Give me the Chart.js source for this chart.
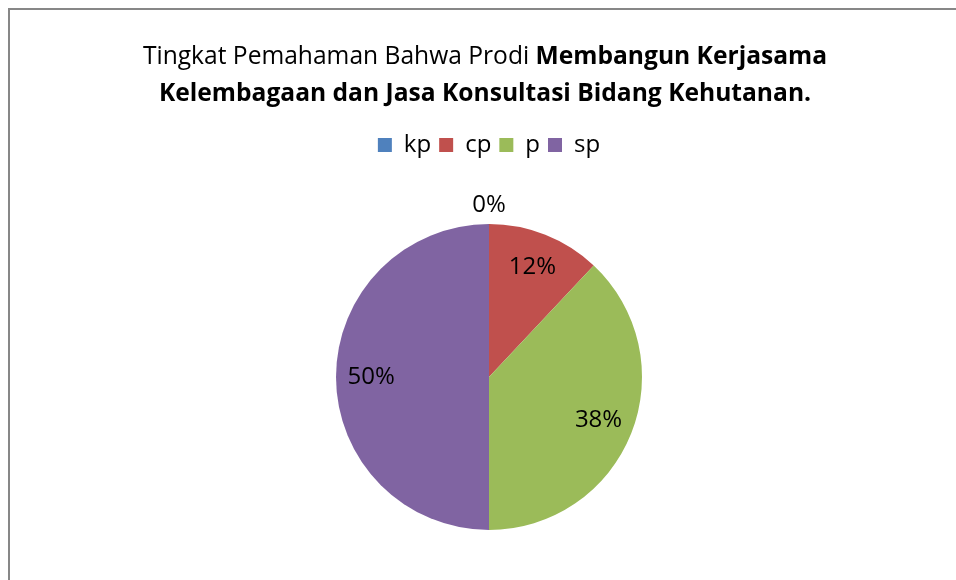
<!DOCTYPE html>
<html>
<head>
<meta charset="utf-8">
<title>Tingkat Pemahaman</title>
<script src="https://cdn.jsdelivr.net/npm/chart.js@4.4.1/dist/chart.umd.min.js"></script>
<style>
  html, body { margin: 0; padding: 0; background: #fff; overflow: hidden; }
  #wrap { position: relative; width: 956px; height: 580px; }
</style>
</head>
<body>
<div id="wrap"><canvas id="chart" width="956" height="580"></canvas></div>
<script>
/* ─── Data ───────────────────────────────────────────────────────────────── */
const categories = ['kp', 'cp', 'p', 'sp'];
const values     = [0, 12, 38, 50];
const colours    = ['#4F81BD', '#C0504D', '#9BBB59', '#8064A2'];

const titleLine1 = [
  { text: 'Tingkat Pemahaman Bahwa Prodi ', bold: false },
  { text: 'Membangun Kerjasama', bold: true }
];
const titleLine2 = [
  { text: 'Kelembagaan dan Jasa Konsultasi Bidang Kehutanan.', bold: true }
];

const FONT = '"Open Sans", Lato, sans-serif';

/* ─── Plugins ────────────────────────────────────────────────────────────── */
// extra gap under the legend, like the Excel layout
const legendGap = {
  id: 'legendGap',
  beforeInit(chart) {
    const fit = chart.legend.fit;
    chart.legend.fit = function () {
      fit.call(this);
      this.height += 57;
    };
  }
};

// frame + mixed-weight title
const frameAndTitle = {
  id: 'frameAndTitle',
  beforeDraw(chart) {
    const ctx = chart.ctx;
    ctx.save();
    ctx.strokeStyle = '#878787';
    ctx.lineWidth = 2;
    ctx.strokeRect(9, 9, 1000, 1000);
    ctx.restore();
  },
  afterDraw(chart) {
    const ctx = chart.ctx;
    const cx = 485;
    ctx.save();
    ctx.fillStyle = '#000';
    ctx.textBaseline = 'alphabetic';
    [[titleLine1, 64], [titleLine2, 101]].forEach(([parts, y]) => {
      const widths = parts.map(p => {
        ctx.font = `${p.bold ? 'bold ' : ''}24.6px ${FONT}`;
        return ctx.measureText(p.text).width;
      });
      let x = cx - widths.reduce((a, b) => a + b, 0) / 2;
      parts.forEach((p, i) => {
        ctx.font = `${p.bold ? 'bold ' : ''}24.6px ${FONT}`;
        ctx.textAlign = 'left';
        ctx.fillText(p.text, x, y);
        x += widths[i];
      });
    });
    ctx.restore();
  }
};

// percentage labels on the slices
const sliceLabels = {
  id: 'sliceLabels',
  afterDatasetsDraw(chart) {
    const ctx = chart.ctx;
    const total = values.reduce((a, b) => a + b, 0);
    ctx.save();
    ctx.font = `24px ${FONT}`;
    ctx.fillStyle = '#000';
    ctx.textAlign = 'center';
    ctx.textBaseline = 'middle';
    chart.getDatasetMeta(0).data.forEach((arc, i) => {
      const { x, y, startAngle, endAngle, outerRadius } = arc.getProps(['x', 'y', 'startAngle', 'endAngle', 'outerRadius'], true);
      const mid = (startAngle + endAngle) / 2;
      const r = values[i] === 0 ? outerRadius + 19 : outerRadius * 0.77;
      const pct = Math.round(values[i] / total * 100) + '%';
      ctx.fillText(pct, x + Math.cos(mid) * r, y + Math.sin(mid) * r);
    });
    ctx.restore();
  }
};

/* ─── Chart ──────────────────────────────────────────────────────────────── */
new Chart(document.getElementById('chart'), {
  type: 'pie',
  data: {
    labels: categories,
    datasets: [{
      data: values,
      backgroundColor: colours,
      borderWidth: 0,
      hoverOffset: 0
    }]
  },
  options: {
    responsive: false,
    animation: false,
    layout: { padding: { top: 125, left: 22, right: 0, bottom: 50 } },
    plugins: {
      legend: {
        position: 'top',
        labels: {
          boxWidth: 14,
          boxHeight: 14,
          padding: 8,
          color: '#000',
          font: { family: FONT, size: 24 }
        }
      },
      tooltip: { enabled: false }
    }
  },
  plugins: [legendGap, frameAndTitle, sliceLabels]
});
</script>
</body>
</html>
